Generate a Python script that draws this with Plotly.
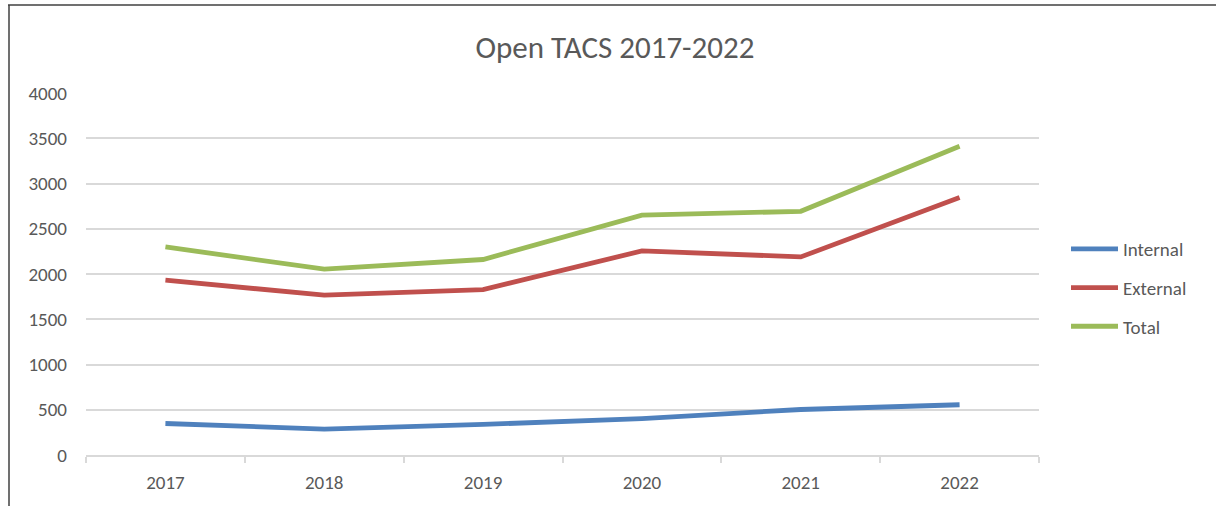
import plotly.graph_objects as go

years = ["2017", "2018", "2019", "2020", "2021", "2022"]
internal = [348, 287, 338, 403, 503, 555]
external = [1932, 1766, 1828, 2255, 2189, 2846]
total = [2299, 2053, 2160, 2650, 2693, 3411]

series_names = ["Internal", "External", "Total"]
series_values = [internal, external, total]
series_colors = ["#4F81BD", "#C0504D", "#9BBB59"]

FONT = "Carlito, Lato, 'Liberation Sans', sans-serif"
TXT = "#595959"
GRID = "#D9D9D9"

fig = go.Figure()
for name, vals, col in zip(series_names, series_values, series_colors):
    fig.add_trace(go.Scatter(
        x=years, y=vals, name=name, mode="lines",
        line=dict(color=col, width=4.8),
        legendgroup=name,
    ))

W, H = 1216, 506
L, R, T, B = 86, 177, 93, 51
pw = W - L - R
ph = H - T - B

fig.update_layout(
    width=W, height=H,
    margin=dict(l=L, r=R, t=T, b=B),
    paper_bgcolor="white", plot_bgcolor="white",
    font=dict(family=FONT, color=TXT, size=19),
    title=dict(text="Open TACS 2017-2022", x=615 / W, xanchor="center",
               y=1 - 47 / H, yanchor="middle",
               font=dict(size=31, color=TXT, family=FONT)),
    showlegend=True,
    legend=dict(x=(1066 - L) / pw, xanchor="left", y=(H - B - 288) / ph, yanchor="middle",
                font=dict(size=19, color=TXT, family=FONT),
                traceorder="grouped", tracegroupgap=11,
                bgcolor="rgba(0,0,0,0)", itemwidth=47),
    xaxis=dict(type="category", range=[-0.5, 5.5], showgrid=False,
               showline=True, linecolor=GRID, linewidth=1.5,
               ticks="outside", ticklen=6, tickcolor=GRID, tickwidth=1.5,
               tickson="boundaries", ticklabelstandoff=9,
               tickfont=dict(size=19, color=TXT, family=FONT)),
    yaxis=dict(range=[0, 4000], tickvals=[0, 500, 1000, 1500, 2000, 2500, 3000, 3500, 4000],
               showgrid=True, gridcolor=GRID, gridwidth=1.5,
               zeroline=False, showline=False, ticks="",
               ticklabelstandoff=18,
               tickfont=dict(size=19, color=TXT, family=FONT)),
)

# frame lines of the chart box (top and left edges)
fig.add_shape(type="line", xref="paper", yref="paper",
              x0=(8 - L) / pw, x1=(W - L + 10) / pw,
              y0=(H - B - 5) / ph, y1=(H - B - 5) / ph,
              line=dict(color="#404040", width=1.5))
fig.add_shape(type="line", xref="paper", yref="paper",
              x0=(9 - L) / pw, x1=(9 - L) / pw,
              y0=(H - B - 5) / ph, y1=-(B + 10) / ph,
              line=dict(color="#404040", width=1.5))

fig.write_html("out.html", config={"displayModeBar": False},
               post_script="document.body.style.margin='0';")
